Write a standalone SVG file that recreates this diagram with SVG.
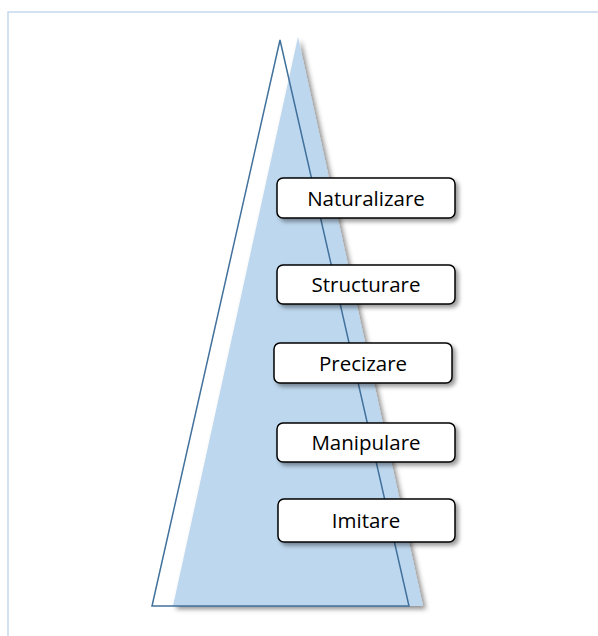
<svg xmlns="http://www.w3.org/2000/svg" width="598" height="636" viewBox="0 0 598 636">
<defs>
<filter id="sh" x="-20%" y="-20%" width="150%" height="150%">
<feDropShadow dx="3" dy="3" stdDeviation="2" flood-color="#000" flood-opacity="0.4"/>
</filter>
<filter id="shb" x="-20%" y="-20%" width="150%" height="150%">
<feDropShadow dx="3" dy="3" stdDeviation="2.5" flood-color="#000" flood-opacity="0.45"/>
</filter>
</defs>
<style>
.box{fill:#fff;stroke:#000;stroke-width:1.5;filter:url(#sh)}
.lbl{font-family:"Open Sans","Noto Sans",sans-serif;font-size:20.5px;fill:#000;text-anchor:middle}
</style>
<rect x="8" y="12" width="600" height="640" fill="none" stroke="#c5d8ec" stroke-width="1.5"/>
<g id="pyramid">
<polygon points="298,37 173,606 423,606" fill="#bdd7ee" filter="url(#shb)"/>
<polygon points="280,40 152,606 409,606" fill="none" stroke="#41719c" stroke-width="1.5"/>
</g>
<g id="connectors"></g>
<g id="naturalizare">
<rect class="box" x="277" y="178" width="178" height="40" rx="6"/>
<text class="lbl" x="366" y="206">Naturalizare</text>
</g>
<g id="structurare">
<rect class="box" x="277" y="265" width="178" height="39" rx="6"/>
<text class="lbl" x="366" y="292">Structurare</text>
</g>
<g id="precizare">
<rect class="box" x="274" y="343" width="178" height="40" rx="6"/>
<text class="lbl" x="363" y="371">Precizare</text>
</g>
<g id="manipulare">
<rect class="box" x="277" y="423" width="178" height="39" rx="6"/>
<text class="lbl" x="366" y="450">Manipulare</text>
</g>
<g id="imitare">
<rect class="box" x="278" y="499" width="177" height="43" rx="6"/>
<text class="lbl" x="366" y="528">Imitare</text>
</g>
</svg>
